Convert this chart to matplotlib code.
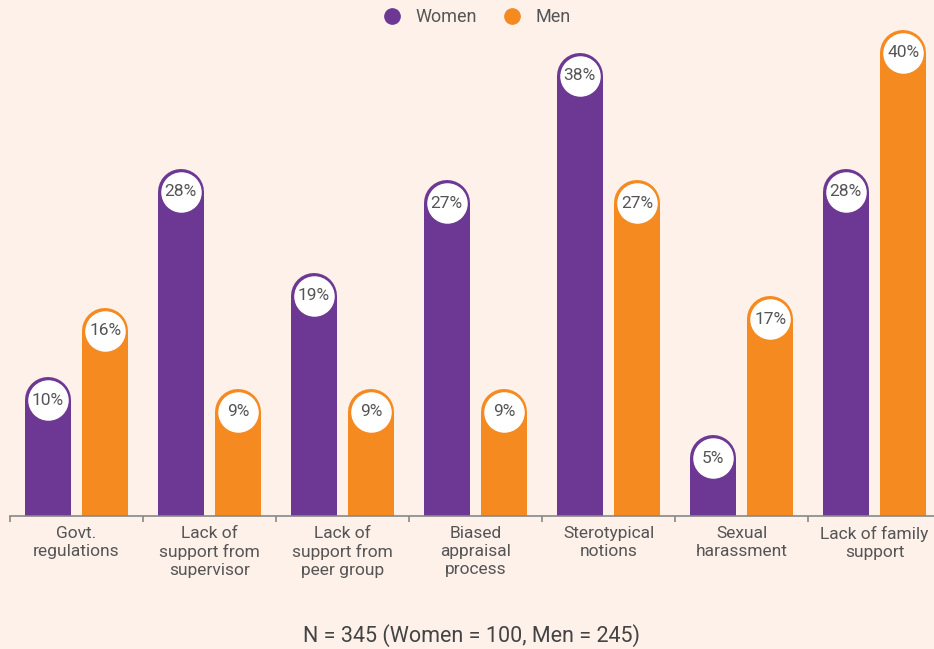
import matplotlib.pyplot as plt
from matplotlib.lines import Line2D

# data
categories = ["Govt.\nregulations", "Lack of\nsupport from\nsupervisor", "Lack of\nsupport from\npeer group",
              "Biased\nappraisal\nprocess", "Sterotypical\nnotions", "Sexual\nharassment", "Lack of family\nsupport"]
women = [10, 28, 19, 27, 38, 5, 28]
men = [16, 9, 9, 9, 27, 17, 40]

bg = "#FDF1EA"
purple = "#6C3893"
orange = "#F58A20"
grey = "#555555"

plt.rcParams['font.family'] = ['Roboto', 'DejaVu Sans']

fig = plt.figure(figsize=(9.34, 6.49), dpi=100, facecolor=bg)
ax = fig.add_axes([0.0107, 0.205, 0.9968, 0.764])
ax.set_facecolor(bg)

off = 0.218
bar_lw = 46 * 72 / 100  # 46 px wide
circ_s = (40.5 * 72 / 100) ** 2

for i in range(len(categories)):
    for val, dx, col in [(women[i], -off, purple), (men[i], off, orange)]:
        x = i + 0.5 + dx
        ax.plot([x, x], [0, val], color=col, lw=bar_lw, solid_capstyle='round', zorder=2)
        ax.scatter([x], [val], s=circ_s, color='white', zorder=3, linewidths=0)
        ax.text(x, val, "%d%%" % val, ha='center', va='center', fontsize=12.5, color=grey, zorder=4)

ax.set_xlim(0, 7)
ax.set_ylim(0, 42.8)
ax.set_yticks([])
for s in ['top', 'right', 'left']:
    ax.spines[s].set_visible(False)
ax.spines['bottom'].set_color('#888888')
ax.spines['bottom'].set_linewidth(1.2)

ax.set_xticks([i + 0.5 for i in range(7)])
ax.set_xticklabels(categories, fontsize=12.5, color=grey, linespacing=1.25)
ax.set_xticks(range(8), minor=True)
ax.tick_params(axis='x', which='major', length=0, pad=7)
ax.tick_params(axis='x', which='minor', length=4, color='#888888', width=1.2)

handles = [Line2D([], [], marker='o', ls='', color=purple, markersize=11),
           Line2D([], [], marker='o', ls='', color=orange, markersize=11)]
fig.legend(handles, ["Women", "Men"], loc='center', bbox_to_anchor=(0.506, 0.974), ncol=2,
           frameon=False, fontsize=13, labelcolor=grey, handletextpad=0.3, columnspacing=0.95)

fig.text(0.5045, 0.021, "N = 345 (Women = 100, Men = 245)", ha='center', va='center', fontsize=15.5, color='#444444')

plt.savefig("out.png", dpi=100, facecolor=bg)
